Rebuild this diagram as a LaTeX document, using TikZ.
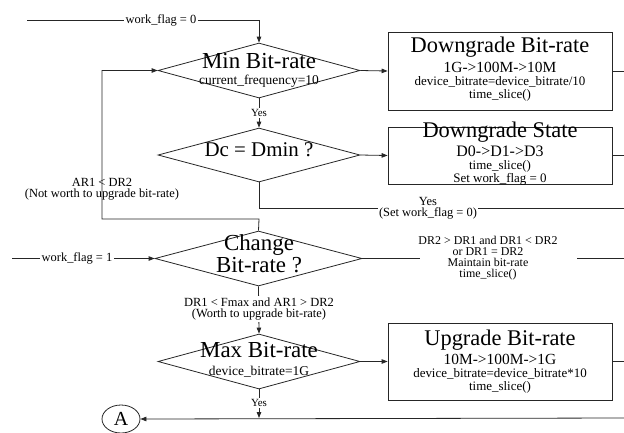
\documentclass[tikz,border=0pt]{standalone}
\usepackage{fontspec}
\setmainfont{Liberation Serif}
\usetikzlibrary{arrows.meta,shapes.geometric}
\newcommand\fsz[2]{\fontsize{#1}{#2}\selectfont}
\begin{document}
\begin{tikzpicture}[x=1bp,y=-1bp,
 ln/.style={line width=0.8bp, draw=black!85},
 arr/.style={ln,-{Triangle[length=6bp,width=4.5bp]}},
 dia/.style={diamond, draw=black!85, line width=0.8bp, inner sep=0pt, minimum width=202bp, minimum height=55bp},
 box/.style={rectangle, draw=black!85, line width=0.8bp, inner sep=0pt, minimum width=224bp},
 txt/.style={inner sep=0pt, align=center, text height=.72em, text depth=.22em},
 lbl/.style={inner sep=1.5pt, fill=white, align=center, font=\fsz{12.5}{11.5}}]
\useasboundingbox (0,0) rectangle (624,432);
\coordinate (R) at (624,0);
% shapes
\node[dia] (minb) at (259,70.5) {};
\node[box, minimum height=78bp] (db) at (500,71) {};
\node[dia, minimum height=54bp] (dc) at (259,155) {};
\node[box, minimum height=57bp] (ds) at (500,155.5) {};
\node[dia, minimum width=207bp] (chg) at (258.5,258.5) {};
\node[dia] (max) at (259,361.5) {};
\node[box, minimum height=77bp] (ub) at (500,361.5) {};
\node[ellipse, draw=black!85, line width=0.8bp, minimum width=38bp, minimum height=28bp, inner sep=0pt, font=\fsz{20}{20}] (A) at (121,419) {A};
% texts in shapes
\node[txt, font=\fsz{23}{23}] (t1) at (259,66) {Min Bit-rate};
\node[txt, font=\fsz{13.5}{13.5}] (t2) at (259,82) {current\_frequency=10};
\node[txt, font=\fsz{22.5}{22.5}] (t3) at (500,50) {Downgrade Bit-rate};
\node[txt, font=\fsz{15.5}{15.5}] (t4) at (500,70) {1G->100M->10M};
\node[txt, font=\fsz{13}{13}] (t5) at (500,83) {device\_bitrate=device\_bitrate/10};
\node[txt, font=\fsz{13}{13}] (t6) at (500,96) {time\_slice()};
\node[txt, font=\fsz{21}{21}] (t7) at (259,154) {Dc = Dmin ?};
\node[txt, font=\fsz{22.5}{22.5}] (t8) at (500,135) {Downgrade State};
\node[txt, font=\fsz{16}{16}] (t9) at (500,154) {D0->D1->D3};
\node[txt, font=\fsz{13}{13}] (t10) at (500,167) {time\_slice()};
\node[txt, font=\fsz{13}{13}] (t11) at (500,180) {Set work\_flag = 0};
\node[txt, font=\fsz{23}{23}] (t12) at (259,248) {Change};
\node[txt, font=\fsz{23}{23}] (t13) at (259,270) {Bit-rate ?};
\node[txt, font=\fsz{23}{23}] (t14) at (259,355) {Max Bit-rate};
\node[txt, font=\fsz{13.5}{13.5}] (t15) at (259,373) {device\_bitrate=1G};
\node[txt, font=\fsz{22.5}{22.5}] (t16) at (500,343) {Upgrade Bit-rate};
\node[txt, font=\fsz{15.5}{15.5}] (t17) at (500,362) {10M->100M->1G};
\node[txt, font=\fsz{13}{13}] (t18) at (500,375) {device\_bitrate=device\_bitrate*10};
\node[txt, font=\fsz{13}{13}] (t19) at (500,388) {time\_slice()};
% coordinates
\coordinate (s0) at (27,20);
\coordinate (s0b) at (259,20);
\coordinate (s1) at (12,258.5);
\coordinate (dcy) at (259,208);
\coordinate (l1) at (259,219);
\coordinate (l2) at (102,219);
\coordinate (c1) at (420,258.5);
\coordinate (c2) at (577,258.5);
\coordinate (by) at (259,418);
% connectors
\draw[arr] (s0) -- (s0b) -- (minb.north);
\draw[arr] (minb.east) -- (db.west);
\draw[ln] (db.east) -- (db.east -| R);
\draw[arr] (minb.south) -- (dc.north);
\draw[arr] (dc.east) -- (ds.west);
\draw[ln] (ds.east) -- (ds.east -| R);
\draw[ln] (dc.south) -- (dcy) -- (dcy -| R);
\draw[arr] (chg.north) -- (l1) -- (l2) -- (l2 |- minb.west) -- (minb.west);
\draw[arr] (s1) -- (chg.west);
\draw[ln] (chg.east) -- (c1);
\draw[ln] (c2) -- (c2 -| R);
\draw[arr] (chg.south) -- (max.north);
\draw[arr] (max.east) -- (ub.west);
\draw[ln] (ub.east) -- (ub.east -| R);
\draw[arr] (max.south) -- (by);
\draw[arr] (by -| R) -- (A.east);
% labels
\node[lbl] (L1) at (161,20) {work\_flag = 0};
\node[lbl, font=\fsz{11}{11}] (L2) at (259,113) {Yes};
\node[lbl] (L3) at (428,208) {Yes\\(Set work\_flag = 0)};
\node[lbl, fill=none] (L4) at (102,189) {AR1 < DR2\\(Not worth to upgrade bit-rate)};
\node[lbl] (L5) at (77,258.5) {work\_flag = 1};
\node[lbl, fill=none, font=\fsz{12}{11}] (L6) at (488,258.5) {DR2 > DR1 and DR1 < DR2\\or DR1 = DR2\\Maintain bit-rate\\time\_slice()};
\node[lbl] (L7) at (259,309) {DR1 < Fmax and AR1 > DR2\\(Worth to upgrade bit-rate)};
\node[lbl, font=\fsz{11}{11}] (L8) at (259,403) {Yes};
\end{tikzpicture}
\end{document}
